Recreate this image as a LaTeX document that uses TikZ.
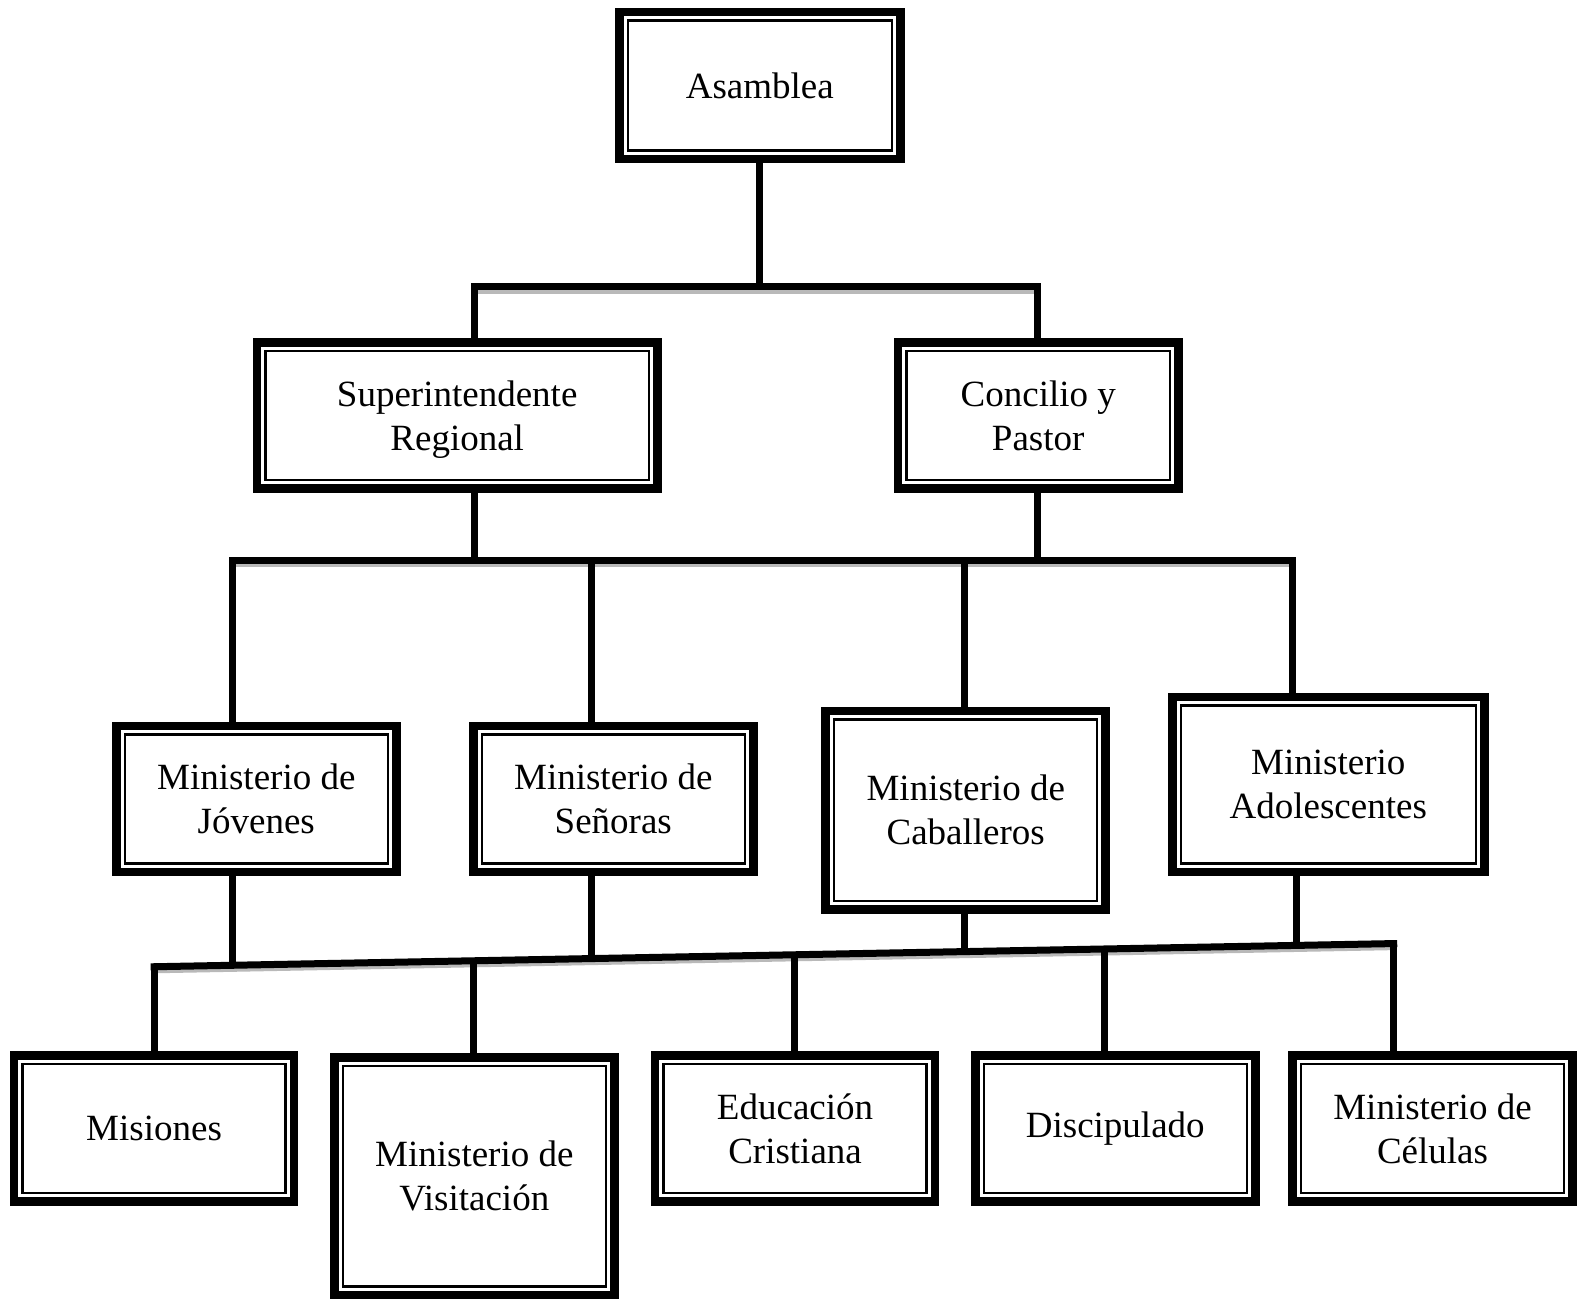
\documentclass[tikz,border=0pt]{standalone}
\usepackage{fontspec}
\setmainfont{Liberation Serif}
\begin{document}
\begin{tikzpicture}[x=1.007pt,y=-1.007pt,
 box/.style={draw, line width=8.5pt, fill=white, inner sep=0pt, align=center,
   font=\fontsize{37}{44}\selectfont,
   path picture={\draw[line width=2.5pt] ([shift={(8.5pt,-8.5pt)}]path picture bounding box.north west) rectangle ([shift={(-8.5pt,8.5pt)}]path picture bounding box.south east);}},
 conn/.style={line width=7pt},
 shadow/.style={line width=4pt, gray!55}]
\useasboundingbox (0,0) rectangle (1568,1291);

% boxes
\node[box, minimum width=281pt, minimum height=147pt] (asm) at (754.5,85) {Asamblea};
\node[box, minimum width=400.8pt, minimum height=146pt, text depth=0pt] (sup) at (454,412.5) {Superintendente\\Regional};
\node[box, minimum width=280pt, minimum height=146pt] (con) at (1031,412.5) {Concilio y\\Pastor};
\node[box, minimum width=280pt, minimum height=146pt] (jov) at (254.5,793.5) {Ministerio de\\Jóvenes};
\node[box, minimum width=280pt, minimum height=146pt] (sen) at (609,793.5) {Ministerio de\\Señoras};
\node[box, minimum width=280pt, minimum height=198.4pt] (cab) at (959,804.5) {Ministerio de\\Caballeros};
\node[box, minimum width=312pt, minimum height=175pt] (ado) at (1319,779) {Ministerio\\Adolescentes};
\node[box, minimum width=280pt, minimum height=146pt] (mis) at (153,1120.5) {Misiones};
\node[box, minimum width=280pt, minimum height=237.6pt] (vis) at (471,1168) {Ministerio de\\Visitación};
\node[box, minimum width=280pt, minimum height=146pt] (edu) at (789.5,1120.5) {Educación\\Cristiana};
\node[box, minimum width=280pt, minimum height=146pt] (dis) at (1107.5,1120.5) {Discipulado};
\node[box, minimum width=280pt, minimum height=146pt] (cel) at (1422.5,1120.5) {Ministerio de\\Células};

% bus coordinates
\coordinate (b1L) at (471,285);
\coordinate (b1R) at (1030,285);
\coordinate (b2L) at (231,557);
\coordinate (b2R) at (1283,557);
\coordinate (b2a) at (471,557);
\coordinate (b2b) at (1030,557);
\coordinate (b2c) at (587,557);
\coordinate (b2d) at (958,557);
\coordinate (b3L) at (153,960);
\coordinate (b3R) at (1384,937);
\coordinate (u1) at (231,958.5);
\coordinate (u2) at (587,951.9);
\coordinate (u3) at (958,945);
\coordinate (u4) at (1287,938.8);
\coordinate (d2) at (470,954.1);
\coordinate (d3) at (789,948.1);
\coordinate (d4) at (1097,942.4);

% shadows
\draw[shadow] ([shift={(1,4.5)}]b1L) -- ([shift={(1,4.5)}]b1R);
\draw[shadow] ([shift={(1,4.5)}]b2L) -- ([shift={(1,4.5)}]b2R);
\draw[shadow] ([shift={(1,4.5)}]b3L) -- ([shift={(1,4.5)}]b3R);

% connectors
\draw[conn] (asm.south) -- (asm.south |- b1L);
\draw[conn, line cap=rect] (b1L) -- (b1R);
\draw[conn] (b1L) -- (b1L |- sup.north);
\draw[conn] (b1R) -- (b1R |- con.north);

\draw[conn] (b2a |- sup.south) -- (b2a);
\draw[conn] (b2b |- con.south) -- (b2b);
\draw[conn, line cap=rect] (b2L) -- (b2R);
\draw[conn] (b2L) -- (b2L |- jov.north);
\draw[conn] (b2c) -- (b2c |- sen.north);
\draw[conn] (b2d) -- (b2d |- cab.north);
\draw[conn] (b2R) -- (b2R |- ado.north);

\draw[conn] (u1 |- jov.south) -- (u1);
\draw[conn] (u2 |- sen.south) -- (u2);
\draw[conn] (u3 |- cab.south) -- (u3);
\draw[conn] (u4 |- ado.south) -- (u4);
\draw[conn, line cap=rect] (b3L) -- (b3R);
\draw[conn] (b3L) -- (b3L |- mis.north);
\draw[conn] (d2) -- (d2 |- vis.north);
\draw[conn] (d3) -- (d3 |- edu.north);
\draw[conn] (d4) -- (d4 |- dis.north);
\draw[conn] (b3R) -- (b3R |- cel.north);
\end{tikzpicture}
\end{document}
